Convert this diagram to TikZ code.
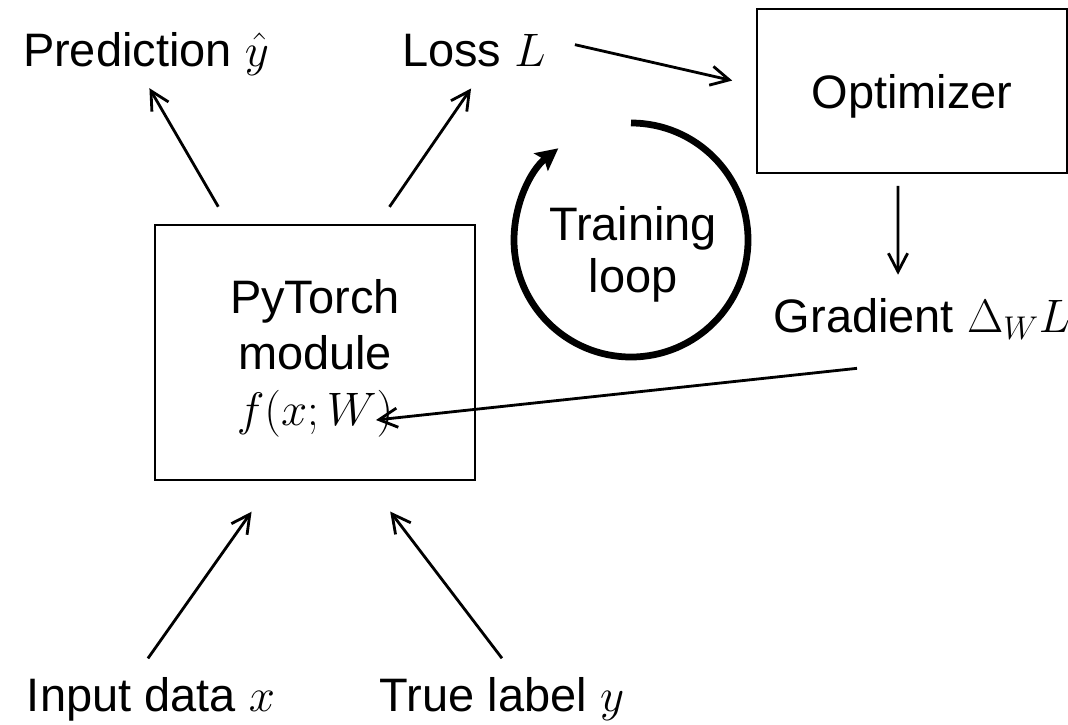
\RequirePackage{fix-cm}
\documentclass[tikz,border=0pt]{standalone}
\usepackage[no-math]{fontspec}
\setmainfont{Liberation Sans}
\usetikzlibrary{arrows.meta,calc}
\tikzset{
  lbl/.style={inner sep=0pt, font=\fontsize{33.4}{40}\selectfont},
  box/.style={draw, line width=1.4pt, inner sep=0pt, align=center, text depth=0pt, font=\fontsize{33.4}{40}\selectfont},
  arr/.style={-{Straight Barb[length=4.6mm,width=4.8mm]}, line width=2pt},
  loopline/.style={-{Stealth[length=5.5mm,width=5.5mm,inset=1mm]}, line width=4.8pt},
}

\begin{document}
\begin{tikzpicture}[x=0.25mm,y=-0.25mm]
  \useasboundingbox (0,0) rectangle (1068,724);
  % boxes
  \node[box, minimum width=80mm, minimum height=63.75mm] (mod) at (315,352.5) {PyTorch\\module\\$f(x;W)$};
  \node[box, minimum width=77.5mm, minimum height=41mm] (opt) at (912,91) {Optimizer};
  % labels
  \node[lbl, anchor=base] (pred) at (146,66) {Prediction $\hat{y}$};
  \node[lbl, anchor=base] (loss) at (474,66) {Loss $L$};
  \node[lbl, anchor=base] (grad) at (922,332) {Gradient $\Delta_W L$};
  \node[lbl, anchor=base] (input) at (151,711) {Input data $x$};
  \node[lbl, anchor=base] (truth) at (502,711) {True label $y$};
  \node[lbl, align=center, font=\fontsize{33.4}{37}\selectfont] (lp) at (633,254) {Training\\loop};
  % connectors
  \draw[arr, shorten <=5mm, shorten >=3.7mm] (mod.124) -- ([xshift=-1mm]pred.south);
  \draw[arr, shorten <=5.2mm, shorten >=6.6mm] (mod.64) -- ([xshift=3mm]loss.south);
  \draw[arr, shorten <=7.4mm, shorten >=6.1mm] ([yshift=3mm]loss.east) -- ([yshift=1.25mm]opt.west);
  \draw[arr, shorten <=3mm, shorten >=5.75mm] ([xshift=-3.5mm]opt.south) -- ([xshift=-6mm]grad.north);
  \draw[arr] ($(grad.south)+(-65,29)$) -- ($(mod.east)+(-100,67.5)$);
  \draw[arr, shorten <=5.6mm, shorten >=9.4mm] ([xshift=-4mm]input.north) -- (mod.252);
  \draw[arr, shorten <=5.8mm, shorten >=9.6mm] ([xshift=3.5mm]truth.north) -- (mod.292);
  % training loop
  \draw[loopline] (631,123) arc[start angle=90, end angle=-231.6, radius=29.25mm];
\end{tikzpicture}
\end{document}
